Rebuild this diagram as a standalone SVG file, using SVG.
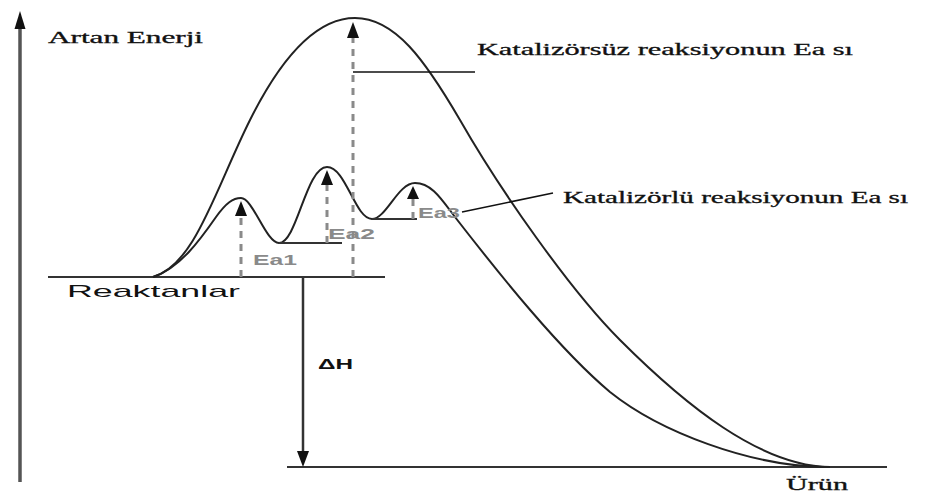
<svg xmlns="http://www.w3.org/2000/svg" width="938" height="494" viewBox="0 0 938 494">
<style>
.curve{fill:none;stroke:#222;stroke-width:2}
.level{fill:none;stroke:#333;stroke-width:2}
.dash{fill:none;stroke:#8a8a8a;stroke-width:3;stroke-dasharray:7 6}
.ptr{fill:none;stroke:#111;stroke-width:1.6}
.serif{font-size:16px;fill:#111;stroke:#111;stroke-width:0.3}
.sans{font-family:Liberation Sans,Arial,sans-serif;fill:#111}
.ea{font-family:Liberation Sans,Arial,sans-serif;font-size:14px;font-weight:bold;fill:#8a8a8a}
.head{fill:#111}
</style>
<rect width="938" height="494" fill="#fff"/>
<g id="axis">
<line x1="20" y1="26" x2="20" y2="482" stroke="#555" stroke-width="3.5"/>
<polygon class="head" points="20,11 14.5,29 25.5,29"/>
<text class="serif" font-family="Liberation Serif, Times New Roman, serif" x="48" y="43" font-size="17" textLength="155" lengthAdjust="spacingAndGlyphs">Artan Enerji</text>
</g>
<g id="reactants">
<line class="level" x1="48" y1="277" x2="385" y2="277"/>
<text class="sans" x="67" y="297" font-size="17" textLength="173" lengthAdjust="spacingAndGlyphs">Reaktanlar</text>
</g>
<g id="product">
<line class="level" x1="287" y1="467" x2="887" y2="467"/>
<text class="serif" font-family="Liberation Serif, Times New Roman, serif" x="786" y="490" textLength="62" lengthAdjust="spacingAndGlyphs">Ürün</text>
</g>
<g id="uncatalyzed">
<path class="curve" d="M153,277 C195,265 215,190 250,120 C280,60 315,18 355,18 C395,18 425,60 460,120 C500,190 570,290 620,340 C685,405 760,466 830,467"/>
</g>
<g id="catalyzed">
<path class="curve" d="M153,277 C180,268 200,240 216,217 C226,203 233,198 241,198 C253,198 266,243 279,243 C297,243 306,167 327,167 C346,167 355,219 372,219 C386,219 398,183 415,183 C432,183 442,200 455,217 C500,275 560,350 610,392 C660,432 750,466 825,467"/>
<line class="level" x1="279" y1="243" x2="342" y2="243" stroke-width="1.8"/>
<line class="level" x1="372" y1="219" x2="417" y2="219" stroke-width="1.8"/>
</g>
<g id="connectors">
<line class="dash" x1="353" y1="277" x2="353" y2="38"/>
<polygon class="head" points="353,22 347,38 359,38"/>
<line class="dash" x1="241" y1="277" x2="241" y2="216"/>
<polygon class="head" points="241,201 235,216 247,216"/>
<line class="dash" x1="327" y1="243" x2="327" y2="185"/>
<polygon class="head" points="327,170 321,185 333,185"/>
<line class="dash" x1="413" y1="219" x2="413" y2="199" stroke-dasharray="4 4"/>
<polygon class="head" points="413,186 407,199 419,199"/>
<line x1="303" y1="277" x2="303" y2="452" stroke="#333" stroke-width="2.5"/>
<polygon class="head" points="303,467 297,451 309,451"/>
<polyline class="ptr" points="353,72 475,72"/>
<polyline class="ptr" points="462,212 553,193"/>
</g>
<g id="labels">
<text class="ea" x="253" y="265" textLength="44" lengthAdjust="spacingAndGlyphs">Ea1</text>
<text class="ea" x="328" y="239" textLength="47" lengthAdjust="spacingAndGlyphs">Ea2</text>
<text class="ea" x="418" y="218" textLength="42" lengthAdjust="spacingAndGlyphs">Ea3</text>
<text class="sans" x="318" y="369" font-size="15" font-weight="bold" textLength="35" lengthAdjust="spacingAndGlyphs">ΔH</text>
<text class="serif" font-family="Liberation Serif, Times New Roman, serif" x="477" y="55" textLength="376" lengthAdjust="spacingAndGlyphs">Katalizörsüz reaksiyonun Ea sı</text>
<text class="serif" font-family="Liberation Serif, Times New Roman, serif" x="563" y="203" textLength="345" lengthAdjust="spacingAndGlyphs">Katalizörlü reaksiyonun Ea sı</text>
</g>
</svg>
